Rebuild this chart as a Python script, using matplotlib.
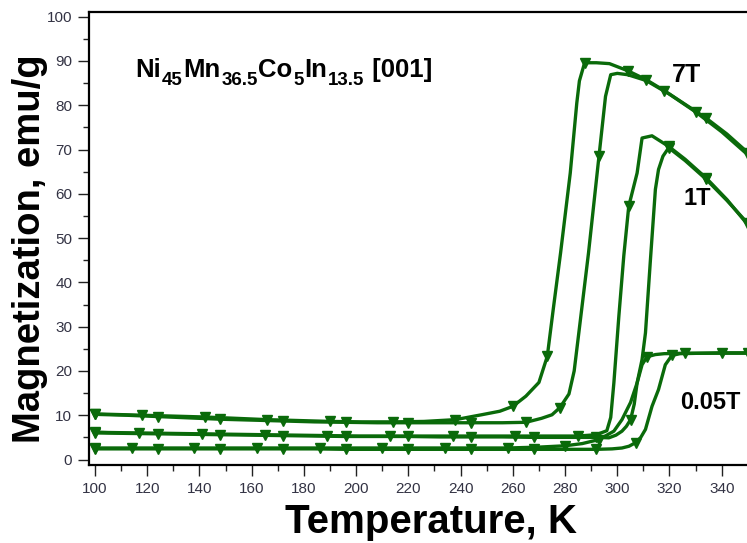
import numpy as np
import matplotlib
matplotlib.use("Agg")
import matplotlib.pyplot as plt
from matplotlib.ticker import MultipleLocator

# ---------------- data ----------------
# 7 T, cooling branch (350 K -> 100 K)
T7c = [350, 342, 334, 326, 318, 311, 304, 297, 292, 287.5, 285.5, 284.5, 282, 278.3, 275.5,
       273.2, 270, 265, 260, 255, 248, 238, 226, 214, 202, 190, 178, 166, 154, 142, 130,
       118, 106, 100]
M7c = [69.3, 73.5, 77.1, 80.2, 83.3, 85.8, 87.8, 89.4, 89.6, 89.6, 85.5, 80.5, 64.7, 46.7, 34.0,
       23.3, 17.4, 14.3, 12.0, 10.9, 10.1, 9.0, 8.6, 8.5, 8.5, 8.6, 8.8, 9.0, 9.3, 9.6, 9.8,
       10.0, 10.2, 10.3]
# 7 T, heating branch (100 K -> 350 K)
T7h = [100, 112, 124, 136, 148, 160, 172, 184, 196, 208, 220, 232, 244, 256, 265, 271, 275,
       278, 281.5, 283.5, 285.3, 289, 293, 295.5, 297.5, 300, 304, 311, 320, 330, 340, 350]
M7h = [10.2, 10.0, 9.7, 9.4, 9.1, 8.9, 8.7, 8.5, 8.4, 8.3, 8.3, 8.3, 8.3, 8.3, 8.4, 9.3, 10.1,
       11.7, 14.8, 20.0, 28.7, 46.7, 68.5, 82.0, 86.9, 87.2, 86.9, 85.6, 82.5, 78.5, 74.0, 68.8]

# 1 T, cooling branch
T1c = [350, 342, 334, 326, 319.7, 313.3, 309.5, 307.6, 304.4, 302.5, 300.6, 298.7, 297.5, 296,
       292, 285, 273, 261, 249, 237, 225, 213, 201, 189, 177, 165, 153, 141, 129, 117, 105, 100]
M1c = [53.0, 58.7, 63.6, 67.8, 70.7, 73.1, 72.6, 64.7, 57.2, 46.0, 32.3, 17.3, 9.5, 6.5,
       5.6, 5.3, 5.3, 5.3, 5.3, 5.3, 5.3, 5.3, 5.3, 5.4, 5.5, 5.6, 5.7, 5.8, 5.9, 6.0, 6.1, 6.2]
# 1 T, heating branch
T1h = [100, 112, 124, 136, 148, 160, 172, 184, 196, 208, 220, 232, 244, 256, 268, 280, 292,
       296.8, 299.5, 301.8, 303.5, 305.1, 306.5, 307.6, 309.5, 310.8, 312.7, 314.6, 315.8,
       317.5, 319.7, 326, 334, 342, 350]
M1h = [6.0, 5.9, 5.8, 5.7, 5.6, 5.5, 5.4, 5.3, 5.2, 5.2, 5.2, 5.1, 5.1, 5.1, 5.0, 5.0, 5.0,
       4.9, 5.5, 6.4, 7.5, 9.0, 12.5, 17.3, 22.6, 28.6, 45.1, 61.0, 65.5,
       68.5, 70.4, 67.5, 63.3, 58.5, 53.3]

# 0.05 T, cooling branch
T0c = [350, 338, 326, 318, 314.6, 311.4, 309.5, 307.6, 305.1, 301.8, 298.7, 293, 286.6, 280,
       270, 258, 246, 234, 222, 210, 198, 186, 174, 162, 150, 138, 126, 114, 102, 100]
M0c = [24.0, 24.0, 24.0, 23.9, 23.7, 23.2, 21.4, 17.3, 12.9, 9.0, 6.4, 4.5, 3.6, 3.1,
       2.8, 2.6, 2.6, 2.6, 2.6, 2.6, 2.6, 2.6, 2.6, 2.6, 2.6, 2.6, 2.6, 2.6, 2.6, 2.6]
# 0.05 T, heating branch
T0h = [100, 112, 124, 136, 148, 160, 172, 184, 196, 208, 220, 232, 244, 256, 268, 280, 292,
       298, 301.8, 304.5, 307, 309, 310.8, 313.3, 315.8, 318.4, 320.9, 324, 332, 340, 350]
M0h = [2.4, 2.4, 2.4, 2.4, 2.4, 2.4, 2.4, 2.4, 2.3, 2.3, 2.3, 2.3, 2.3, 2.3, 2.3, 2.3, 2.3,
       2.4, 2.6, 3.0, 3.8, 5.0, 6.8, 12.0, 15.8, 21.4, 23.5, 23.9, 24.0, 24.1, 24.1]

branches = [(T7c, M7c), (T7h, M7h), (T1c, M1c), (T1h, M1h), (T0c, M0c), (T0h, M0h)]
field_labels = ["7T", "1T", "0.05T"]
# formula pieces: (text, is_subscript)
title_parts = [("Ni", False), ("45", True), ("Mn", False), ("36.5", True), ("Co", False),
               ("5", True), ("In", False), ("13.5", True), (" [001]", False)]

# ---------------- style ----------------
plt.rcParams['font.family'] = ['Liberation Sans', 'DejaVu Sans']

GREEN = '#0a6a0a'
TICKC = '#333344'

fig = plt.figure(figsize=(7.47, 5.43), dpi=100)
ax = fig.add_axes([89 / 747, 1 - 465 / 543, (746 - 89) / 747, (465 - 12) / 543])


def marker_idx(T, step=13.0):
    idx = [0]
    last = T[0]
    for i, t in enumerate(T):
        if abs(t - last) >= step:
            idx.append(i)
            last = t
    return idx


for T, M in branches:
    ax.plot(T, M, color=GREEN, lw=2.4, marker='v', ms=7, mec=GREEN, mfc=GREEN,
            markevery=marker_idx(T), solid_joinstyle='round', clip_on=True)

ax.set_xlim(97.7, 349.3)
ax.set_ylim(-1.24, 101.06)

ax.xaxis.set_major_locator(MultipleLocator(20))
ax.xaxis.set_minor_locator(MultipleLocator(10))
ax.yaxis.set_major_locator(MultipleLocator(10))
ax.yaxis.set_minor_locator(MultipleLocator(5))

ax.tick_params(which='major', direction='out', length=8, width=1.0, labelsize=11,
               labelcolor=TICKC, color='#222222', pad=4)
ax.tick_params(which='minor', direction='out', length=4, width=1.0, color='#222222')

for s in ['left', 'bottom', 'top']:
    ax.spines[s].set_linewidth(1.6)
ax.spines['right'].set_visible(False)

ax.set_xlabel("Temperature, K", fontsize=29, fontweight='bold')
ax.xaxis.set_label_coords(0.521, -0.083)
ax.set_ylabel("Magnetization, emu/g", fontsize=27.5, fontweight='bold')
ax.yaxis.set_label_coords(-0.062, 0.478)

# formula title built from pieces so subscripts can be sized like the reference
first = ax.text(115.3, 86.3, title_parts[0][0], fontsize=18.5, fontweight='bold',
                ha='left', va='baseline')
prev = first
for txt, sub in title_parts[1:]:
    prev = ax.annotate(txt, xy=(1, 0), xycoords=(prev, first),
                       xytext=(0.7 if sub else 0.4, -4.5 if sub else 0),
                       textcoords='offset points',
                       fontsize=13.5 if sub else 18.5, fontweight='bold',
                       ha='left', va='bottom')

ax.text(326.7, 86.8, field_labels[0], fontsize=18, fontweight='bold', ha='center', va='center')
ax.text(330.6, 59.0, field_labels[1], fontsize=17, fontweight='bold', ha='center', va='center')
ax.text(335.5, 12.9, field_labels[2], fontsize=17, fontweight='bold', ha='center', va='center')

fig.savefig("out.png", dpi=100)
